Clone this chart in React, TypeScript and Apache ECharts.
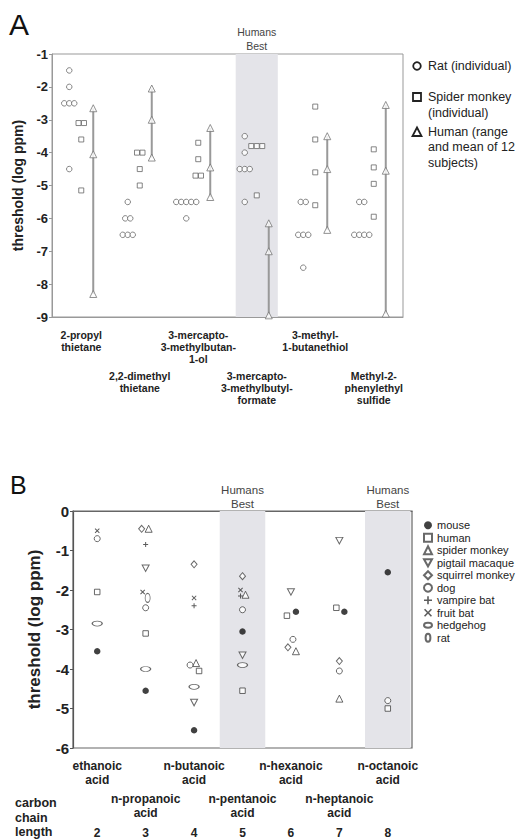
import React, { useEffect, useRef } from 'react';
import * as echarts from 'echarts';

// ---------- Panel A data ----------
const compoundsA = [
  '2-propyl\nthietane',
  '2,2-dimethyl\nthietane',
  '3-mercapto-\n3-methylbutan-\n1-ol',
  '3-mercapto-\n3-methylbutyl-\nformate',
  '3-methyl-\n1-butanethiol',
  'Methyl-2-\nphenylethyl\nsulfide',
];
const yTicksA = [-9, -8, -7, -6, -5, -4, -3, -2, -1];
const ratA = [
  [-1.5, -2, -2.5, -2.5, -2.5, -4.5],
  [-5.5, -6, -6, -6.5, -6.5, -6.5],
  [-5.5, -5.5, -5.5, -5.5, -5.5, -6],
  [-3.5, -4, -4.5, -4.5, -4.5, -5.5],
  [-5.5, -5.5, -6.5, -6.5, -6.5, -7.5],
  [-5.5, -5.5, -6.5, -6.5, -6.5, -6.5],
];
const spiderMonkeyA = [
  [-3.1, -3.1, -3.6, -5.15],
  [-4, -4, -4.5, -5],
  [-3.7, -4.2, -4.7, -4.7],
  [-3.8, -3.8, -3.8, -5.3],
  [-2.6, -3.6, -4.6, -5.6],
  [-3.9, -4.45, -4.95, -5.95],
];
const humanMinA = [-8.3, -4.15, -5.35, -8.95, -6.35, -8.9];
const humanMeanA = [-4.05, -3.0, -4.45, -7.0, -4.5, -4.55];
const humanMaxA = [-2.65, -2.05, -3.25, -6.15, -3.5, -2.55];
const humansBestA = [3];

// ---------- Panel B data ----------
const acidsB = [
  'ethanoic\nacid',
  'n-propanoic\nacid',
  'n-butanoic\nacid',
  'n-pentanoic\nacid',
  'n-hexanoic\nacid',
  'n-heptanoic\nacid',
  'n-octanoic\nacid',
];
const carbonB = ['2', '3', '4', '5', '6', '7', '8'];
const yTicksB = [-6, -5, -4, -3, -2, -1, 0];
const humansBestB = [3, 6];
const speciesB = ['mouse', 'human', 'spider monkey', 'pigtail macaque', 'squirrel monkey', 'dog', 'vampire bat', 'fruit bat', 'hedgehog', 'rat'];
const mouseB = [-3.55, -4.55, -5.55, -3.05, -2.55, -2.55, -1.55];
const humanB = [-2.05, -3.1, -4.05, -4.55, -2.65, -2.45, -5.0];
const spiderMonkeyB = [null, -0.45, -3.85, -2.12, -3.55, -4.75, null];
const pigtailMacaqueB = [null, -1.45, -4.85, -3.65, -2.05, -0.75, null];
const squirrelMonkeyB = [null, -0.45, -1.35, -1.65, -3.45, -3.8, null];
const dogB = [-0.7, -2.45, -3.9, -2.5, -3.25, -4.05, -4.8];
const vampireBatB = [null, -0.85, -2.4, -2.15, null, null, null];
const fruitBatB = [-0.5, -2.05, -2.2, -2.0, null, null, null];
const hedgehogB = [-2.85, -4.0, -4.45, -3.9, null, null, null];
const ratB = [null, -2.2, null, null, null, null, null];

// ---------- layout (pixel jitter, not data) ----------
const jitterB: Record<string, number[]> = {
  mouse: [0, 0, 0, 0, 5, 5, 0],
  human: [0, 0, 5, 0, -4, -3, 0],
  'spider monkey': [0, 3, 2, 3, 5, 0, 0],
  'pigtail macaque': [0, 0, 0, 0, 0, 0, 0],
  'squirrel monkey': [0, -4, 0, 0, -3, 0, 0],
  dog: [0, 0, -4, 0, 2, 0, 0],
  'vampire bat': [0, 0, 0, -2, 0, 0, 0],
  'fruit bat': [0, -3, 0, -2, 0, 0, 0],
  hedgehog: [0, 0, 0, 0, 0, 0, 0],
  rat: [0, 2, 0, 0, 0, 0, 0],
};

const FONT = 'Liberation Sans, Arial, Helvetica, sans-serif';

const hollow = (c: string, w = 1) => ({ color: '#fff', borderColor: c, borderWidth: w });
const filled = (c: string) => ({ color: c, borderWidth: 0 });

const styleB: Record<string, any> = {
  mouse: { symbol: 'circle', symbolSize: 6.5, itemStyle: filled('#111') },
  human: { symbol: 'rect', symbolSize: 5.5, itemStyle: hollow('#444') },
  'spider monkey': { symbol: 'triangle', symbolSize: 7, itemStyle: hollow('#444') },
  'pigtail macaque': { symbol: 'path://M0,0L10,0L5,9Z', symbolSize: [7, 6.5], itemStyle: hollow('#444') },
  'squirrel monkey': { symbol: 'diamond', symbolSize: [6, 7], itemStyle: hollow('#444') },
  dog: { symbol: 'circle', symbolSize: 6, itemStyle: hollow('#444') },
  'vampire bat': { symbol: 'path://M2,0H3V2H5V3H3V5H2V3H0V2H2Z', symbolSize: 5, itemStyle: filled('#333') },
  'fruit bat': { symbol: 'path://M0.7,0L2.5,1.8L4.3,0L5,0.7L3.2,2.5L5,4.3L4.3,5L2.5,3.2L0.7,5L0,4.3L1.8,2.5L0,0.7Z', symbolSize: 5, itemStyle: filled('#333') },
  hedgehog: { symbol: 'path://M0,3A5,3 0 1 1 10,3A5,3 0 1 1 0,3Z', symbolSize: [10, 5], itemStyle: hollow('#444') },
  rat: { symbol: 'path://M3,0A3,5 0 1 1 3,10A3,5 0 1 1 3,0Z', symbolSize: [5, 9], itemStyle: hollow('#444') },
};

const valuesB: Record<string, (number | null)[]> = {
  mouse: mouseB,
  human: humanB,
  'spider monkey': spiderMonkeyB,
  'pigtail macaque': pigtailMacaqueB,
  'squirrel monkey': squirrelMonkeyB,
  dog: dogB,
  'vampire bat': vampireBatB,
  'fruit bat': fruitBatB,
  hedgehog: hedgehogB,
  rat: ratB,
};

function spread(values: number[], base: number, step: number) {
  const counts: Record<string, number> = {};
  values.forEach((v) => (counts[v] = (counts[v] || 0) + 1));
  const seen: Record<string, number> = {};
  return values.map((v) => {
    const n = counts[v];
    const k = seen[v] || 0;
    seen[v] = k + 1;
    return base + (k - (n - 1) / 2) * step;
  });
}

function groupItems(groups: number[][], base: number, step: number) {
  const out: any[] = [];
  groups.forEach((vals, ci) => {
    const offs = spread(vals, base, step);
    vals.forEach((v, j) => out.push({ value: [ci, v], symbolOffset: [offs[j], 0] }));
  });
  return out;
}

const isEven = (i: number) => i % 2 === 0;
const isOdd = (i: number) => i % 2 === 1;

function bandRenderer(frac: number, fontSize: number, lineHeight: number, dy: number) {
  return (params: any, api: any) => {
    const cs = params.coordSys;
    const c = api.coord([api.value(0), 0]);
    const w = api.size([1, 0])[0] * frac;
    return {
      type: 'group',
      children: [
        { type: 'rect', shape: { x: c[0] - w / 2, y: cs.y, width: w, height: cs.height }, style: { fill: '#e4e4e9' } },
        {
          type: 'text',
          x: c[0],
          y: cs.y - dy,
          style: { text: 'Humans\nBest', align: 'center', verticalAlign: 'bottom', fontSize, lineHeight, fill: '#444', fontFamily: FONT },
        },
      ],
    };
  };
}

export default function App() {
  const ref = useRef<HTMLDivElement>(null);
  useEffect(() => {
    if (!ref.current) return;
    const chart = echarts.init(ref.current, undefined, { renderer: 'svg' });

    const humanTri: any[] = [];
    [humanMinA, humanMeanA, humanMaxA].forEach((arr) =>
      arr.forEach((v, ci) => humanTri.push({ value: [ci, v] }))
    );

    const seriesB = speciesB.map((s) => {
      const data: any[] = [];
      valuesB[s].forEach((v, ci) => {
        if (v !== null) data.push({ value: [ci, v], symbolOffset: [jitterB[s][ci], 0] });
      });
      return {
        name: s,
        type: 'scatter',
        xAxisIndex: 2,
        yAxisIndex: 1,
        z: 3,
        silent: true,
        symbol: styleB[s].symbol,
        symbolSize: styleB[s].symbolSize,
        itemStyle: styleB[s].itemStyle,
        data,
      };
    });

    const labelA = { fontSize: 10.5, fontWeight: 'bold', lineHeight: 12, color: '#222', fontFamily: FONT };
    const labelB = { fontSize: 12, fontWeight: 'bold', lineHeight: 14, color: '#222', fontFamily: FONT };

    const option: any = {
      animation: false,
      backgroundColor: '#fff',
      textStyle: { fontFamily: FONT },
      grid: [
        { left: 52, top: 54, width: 351, height: 263, show: true, borderColor: '#999', borderWidth: 1, backgroundColor: '#fff' },
        { left: 73, top: 511, width: 339, height: 237, show: true, borderColor: '#666', borderWidth: 1.2, backgroundColor: '#fff' },
      ],
      xAxis: [
        {
          gridIndex: 0,
          type: 'category',
          data: compoundsA,
          position: 'bottom',
          axisLine: { lineStyle: { color: '#999', width: 1 } },
          axisTick: { alignWithLabel: true, interval: 0, length: 3, lineStyle: { color: '#999' } },
          axisLabel: { ...labelA, interval: isEven, margin: 12 },
          splitLine: { show: false },
        },
        {
          gridIndex: 0,
          type: 'category',
          data: compoundsA,
          position: 'bottom',
          axisLine: { show: false },
          axisTick: { alignWithLabel: true, interval: isOdd, length: 48, lineStyle: { color: '#999', width: 1.5 } },
          axisLabel: { ...labelA, interval: isOdd, margin: 53 },
          splitLine: { show: false },
        },
        {
          gridIndex: 1,
          type: 'category',
          data: acidsB,
          position: 'bottom',
          axisLine: { lineStyle: { color: '#666', width: 1.2 } },
          axisTick: { alignWithLabel: true, interval: 0, length: 3, lineStyle: { color: '#777' } },
          axisLabel: { ...labelB, interval: isEven, margin: 11 },
          splitLine: { show: false },
        },
        {
          gridIndex: 1,
          type: 'category',
          data: acidsB,
          position: 'bottom',
          axisLine: { show: false },
          axisTick: { alignWithLabel: true, interval: isOdd, length: 35, lineStyle: { color: '#777', width: 1.5 } },
          axisLabel: { ...labelB, interval: isOdd, margin: 44 },
          splitLine: { show: false },
        },
        {
          gridIndex: 1,
          type: 'category',
          data: carbonB,
          position: 'bottom',
          axisLine: { show: false },
          axisTick: { show: false },
          axisLabel: { ...labelB, interval: 0, margin: 78 },
          splitLine: { show: false },
        },
      ],
      yAxis: [
        {
          gridIndex: 0,
          type: 'value',
          min: yTicksA[0],
          max: yTicksA[yTicksA.length - 1],
          interval: 1,
          name: 'threshold (log ppm)',
          nameLocation: 'middle',
          nameGap: 27,
          nameTextStyle: { fontSize: 14, fontWeight: 'bold', color: '#222' },
          axisLine: { show: true, lineStyle: { color: '#999' } },
          axisTick: { show: true, length: 3, lineStyle: { color: '#999' } },
          axisLabel: { fontSize: 13, fontWeight: 'bold', color: '#222', margin: 4 },
          splitLine: { show: false },
        },
        {
          gridIndex: 1,
          type: 'value',
          min: yTicksB[0],
          max: yTicksB[yTicksB.length - 1],
          interval: 1,
          name: 'threshold (log ppm)',
          nameLocation: 'middle',
          nameGap: 30,
          nameTextStyle: { fontSize: 17, fontWeight: 'bold', color: '#222' },
          axisLine: { show: true, lineStyle: { color: '#555', width: 1.2 } },
          axisTick: { show: true, length: 3, lineStyle: { color: '#555' } },
          axisLabel: { fontSize: 15, fontWeight: 'bold', color: '#222', margin: 4 },
          splitLine: { show: false },
        },
      ],
      legend: {
        data: speciesB,
        orient: 'vertical',
        left: 418,
        top: 514,
        itemWidth: 8,
        itemHeight: 8,
        itemGap: 0,
        selectedMode: false,
        textStyle: { fontSize: 11, color: '#222', lineHeight: 12.5, fontFamily: FONT },
      },
      series: [
        {
          type: 'custom',
          xAxisIndex: 0,
          yAxisIndex: 0,
          silent: true,
          clip: false,
          z: 1,
          renderItem: bandRenderer(0.72, 10.5, 13.4, 1.5),
          data: humansBestA.map((i) => [i]),
        },
        {
          type: 'custom',
          xAxisIndex: 2,
          yAxisIndex: 1,
          silent: true,
          clip: false,
          z: 1,
          renderItem: bandRenderer(0.94, 11.5, 14, 0),
          data: humansBestB.map((i) => [i]),
        },
        {
          name: 'Rat (individual)',
          type: 'scatter',
          xAxisIndex: 0,
          yAxisIndex: 0,
          z: 3,
          silent: true,
          symbol: 'circle',
          symbolSize: 5.5,
          itemStyle: hollow('#666'),
          data: groupItems(ratA, -12, 5),
        },
        {
          name: 'Spider monkey (individual)',
          type: 'scatter',
          xAxisIndex: 0,
          yAxisIndex: 0,
          z: 3,
          silent: true,
          symbol: 'rect',
          symbolSize: 5,
          itemStyle: hollow('#666'),
          data: groupItems(spiderMonkeyA, 0, 5.5),
        },
        {
          type: 'custom',
          xAxisIndex: 0,
          yAxisIndex: 0,
          silent: true,
          z: 2,
          renderItem: (params: any, api: any) => {
            const p1 = api.coord([api.value(0), api.value(1)]);
            const p2 = api.coord([api.value(0), api.value(2)]);
            return {
              type: 'line',
              shape: { x1: p1[0] + 12, y1: p1[1], x2: p2[0] + 12, y2: p2[1] },
              style: { stroke: '#999', lineWidth: 2 },
            };
          },
          data: humanMinA.map((mn, i) => [i, mn, humanMaxA[i]]),
        },
        {
          name: 'Human (range and mean of 12 subjects)',
          type: 'scatter',
          xAxisIndex: 0,
          yAxisIndex: 0,
          z: 3,
          silent: true,
          symbol: 'triangle',
          symbolSize: 7,
          symbolOffset: [12, 0],
          itemStyle: hollow('#777'),
          data: humanTri,
        },
        ...seriesB,
      ],
      graphic: [
        { type: 'text', left: 9, top: 9, style: { text: 'A', fontSize: 30, fill: '#111', fontFamily: FONT } },
        { type: 'text', left: 10, top: 472, style: { text: 'B', fontSize: 25, fill: '#111', fontFamily: FONT } },
        {
          type: 'text',
          left: 15,
          top: 796,
          style: { text: 'carbon\nchain\nlength', fontSize: 12.5, fontWeight: 'bold', lineHeight: 14.5, fill: '#222', fontFamily: FONT },
        },
        { type: 'circle', shape: { cx: 417, cy: 66, r: 3.8 }, style: { fill: 'none', stroke: '#222', lineWidth: 1.8 } },
        { type: 'rect', shape: { x: 413, y: 93, width: 8, height: 8 }, style: { fill: 'none', stroke: '#222', lineWidth: 1.8 } },
        { type: 'polygon', shape: { points: [[417, 127.5], [421.5, 136], [412.5, 136]] }, style: { fill: 'none', stroke: '#222', lineWidth: 1.8 } },
        { type: 'text', x: 428, y: 66, style: { text: 'Rat (individual)', verticalAlign: 'middle', fontSize: 12.5, fill: '#222', fontFamily: FONT } },
        { type: 'text', x: 428, y: 89.5, style: { text: 'Spider monkey\n(individual)', verticalAlign: 'top', fontSize: 12.5, lineHeight: 15.5, fill: '#222', fontFamily: FONT } },
        { type: 'text', x: 428, y: 124, style: { text: 'Human (range\nand mean of 12\nsubjects)', verticalAlign: 'top', fontSize: 12.5, lineHeight: 15.5, fill: '#222', fontFamily: FONT } },
      ],
    };

    chart.setOption(option);
    return () => chart.dispose();
  }, []);

  return <div ref={ref} style={{ position: 'absolute', left: 0, top: 0, width: 516, height: 840 }} />;
}
